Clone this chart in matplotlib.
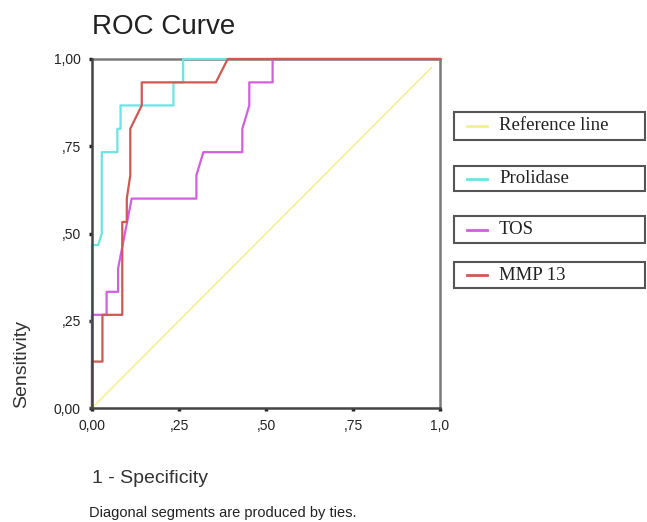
import matplotlib
matplotlib.use('agg')
import matplotlib.pyplot as plt
from matplotlib.patches import Rectangle
from matplotlib.lines import Line2D

# ROC curve data (x = 1 - specificity, y = sensitivity)
ref_x = [0.0, 0.975]
ref_y = [0.0, 0.975]

prolidase_x = [0.0, 0.0, 0.018, 0.028, 0.028, 0.073, 0.073, 0.082, 0.082, 0.234, 0.234, 0.262, 0.262, 1.0]
prolidase_y = [0.0, 0.467, 0.467, 0.5, 0.733, 0.733, 0.8, 0.8, 0.867, 0.867, 0.933, 0.933, 1.0, 1.0]

tos_x = [0.0, 0.0, 0.042, 0.042, 0.075, 0.075, 0.114, 0.30, 0.30, 0.32, 0.432, 0.432, 0.452, 0.452, 0.519, 0.519, 1.0]
tos_y = [0.0, 0.267, 0.267, 0.333, 0.333, 0.4, 0.6, 0.6, 0.667, 0.733, 0.733, 0.8, 0.867, 0.933, 0.933, 1.0, 1.0]

mmp_x = [0.0, 0.0, 0.03, 0.03, 0.087, 0.087, 0.1, 0.1, 0.11, 0.11, 0.143, 0.143, 0.356, 0.39, 1.0]
mmp_y = [0.0, 0.133, 0.133, 0.267, 0.267, 0.533, 0.533, 0.6, 0.667, 0.8, 0.867, 0.933, 0.933, 1.0, 1.0]

tick_vals = [0.0, 0.25, 0.5, 0.75, 1.0]
x_ticklabels = ['0,00', ',25', ',50', ',75', '1,0']
y_ticklabels = ['0,00', ',25', ',50', ',75', '1,00']

series_names = ['Reference line', 'Prolidase', 'TOS', 'MMP 13']
series_colors = ['#f4f08c', '#6ae4e4', '#d25ee0', '#d05850']

W, H = 647, 522
plt.rcParams['font.family'] = ['Liberation Sans', 'DejaVu Sans']

fig = plt.figure(figsize=(W / 100, H / 100), dpi=100)
ax = fig.add_axes([92 / W, 1 - 408 / H, 348 / W, 349 / H])

ax.plot(ref_x, ref_y, color=series_colors[0], lw=1.1, zorder=3, clip_on=False)
ax.plot(prolidase_x, prolidase_y, color=series_colors[1], lw=1.6, zorder=4, clip_on=False)
ax.plot(tos_x, tos_y, color=series_colors[2], lw=1.6, zorder=5, clip_on=False)
ax.plot(mmp_x, mmp_y, color=series_colors[3], lw=1.6, zorder=6, clip_on=False)

ax.set_xlim(0, 1)
ax.set_ylim(0, 1)
ax.set_xticks(tick_vals)
ax.set_xticklabels(x_ticklabels)
ax.set_yticks(tick_vals)
ax.set_yticklabels(y_ticklabels)
ax.tick_params(direction='out', length=2, width=2.5, pad=6, labelsize=10, colors='#222222')

# left/bottom axis lines sit over the curves, top/right frame under them
for side in ['left', 'bottom']:
    ax.spines[side].set_color('#444444')
    ax.spines[side].set_linewidth(1.8)
    ax.spines[side].set_zorder(10)
for side in ['top', 'right']:
    ax.spines[side].set_color('#7a7a7a')
    ax.spines[side].set_linewidth(1.8)
    ax.spines[side].set_zorder(1)

def px(x, y):
    return x / W, 1 - y / H

# titles and labels
fig.text(*px(92, 34), 'ROC Curve', fontsize=20, color='#222222', va='baseline', ha='left')
fig.text(*px(92, 483), '1 - Specificity', fontsize=14, color='#333333', va='baseline', ha='left')
fig.text(*px(89, 517), 'Diagonal segments are produced by ties.', fontsize=10.5, color='#222222',
         va='baseline', ha='left')
fig.text(*px(22, 364), 'Sensitivity', fontsize=14, color='#333333', rotation=90, va='center', ha='center')

# legend: one framed box per series
box_tops = [112, 166, 216, 262]
box_bottoms = [140, 191, 243, 288]
for name, col, top, bot in zip(series_names, series_colors, box_tops, box_bottoms):
    x0, y0 = px(454, bot)
    fig.add_artist(Rectangle((x0, y0), (645 - 454) / W, (bot - top) / H, transform=fig.transFigure,
                             fill=False, edgecolor='#555555', lw=1.5))
    mid = (top + bot) / 2
    fig.add_artist(Line2D([467 / W, 487 / W], [1 - mid / H, 1 - mid / H], transform=fig.transFigure,
                          color=col, lw=2))
    fig.text(*px(499, mid), name, fontsize=13.5, family=['Liberation Serif', 'DejaVu Serif'],
             color='#222222', va='center', ha='left')

fig.savefig('out.png', dpi=100)
